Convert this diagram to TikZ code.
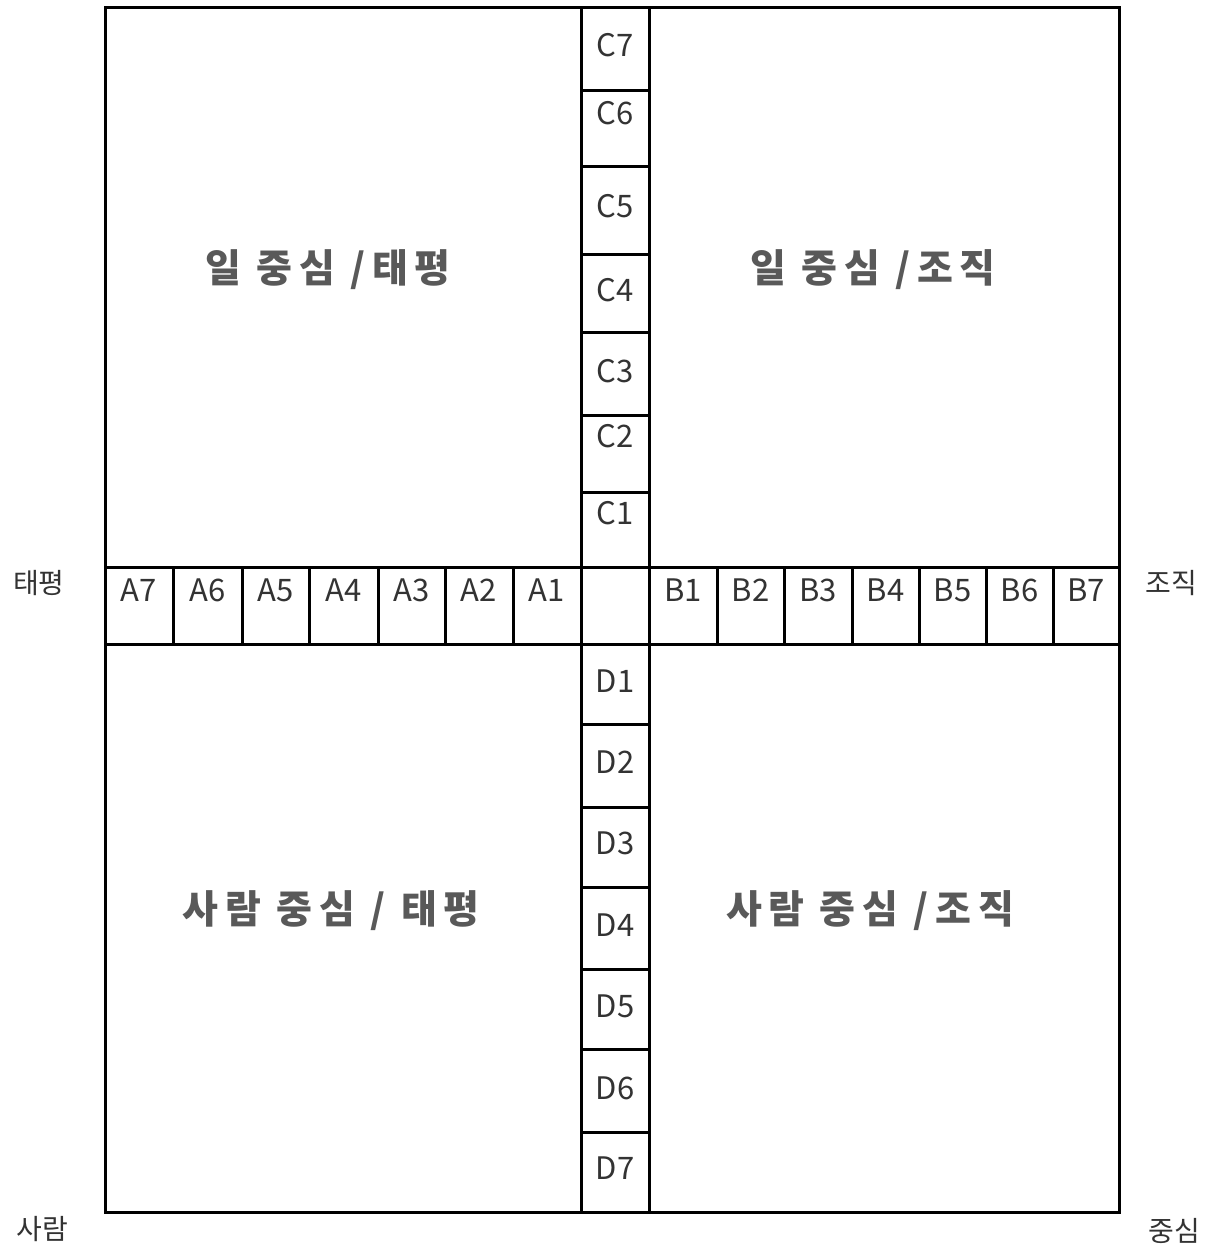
\documentclass[tikz,border=0pt]{standalone}
\usepackage{fontspec}
\setmainfont{Noto Sans CJK KR}
\newfontfamily\quadfont[LetterSpace=17]{Noto Sans CJK KR}
\usetikzlibrary{positioning, calc}

\tikzset{
    grid/.style={line width=1.5pt, black},
    cell/.style={font=\fontsize{15.5}{18}\selectfont, text=black!80, inner sep=0pt},
    side/.style={font=\fontsize{14}{16}\selectfont, text=black!80, inner sep=0pt},
    quad/.style={font=\quadfont\bfseries\fontsize{19.5}{23}\selectfont, text=black!65, inner sep=0pt}
}

\begin{document}
\begin{tikzpicture}[x=0.5pt, y=-0.5pt]
\useasboundingbox (0,0) rectangle (1214,1247);

% Outer frame and central cross
\draw[grid] (105,8) rectangle (1119,1212);
\draw[grid] (581,8) -- (581,1212) (649,8) -- (649,1212);
\draw[grid] (105,567) -- (1119,567) (105,644) -- (1119,644);

% Left row (A7 ... A1)
\foreach \x in {173,242,309,378,445,513}
    \draw[grid] (\x,567) -- (\x,644);
\foreach \i/\x in {7/139, 6/207.5, 5/275.5, 4/343.5, 3/411.5, 2/479, 1/547}
    \node[cell] (a\i) at (\x,590) {A\i};

% Right row (B1 ... B7)
\foreach \x in {717,784,852,919,986,1053}
    \draw[grid] (\x,567) -- (\x,644);
\foreach \i/\x in {1/683, 2/750.5, 3/818, 4/885.5, 5/952.5, 6/1019.5, 7/1086}
    \node[cell] (b\i) at (\x,590) {B\i};

% Upper column (C7 ... C1)
\foreach \y in {91,166,254,332,415,492}
    \draw[grid] (581,\y) -- (649,\y);
\foreach \i/\y in {7/45, 6/113, 5/206, 4/290, 3/371, 2/436, 1/513}
    \node[cell] (c\i) at (615,\y) {C\i};

% Lower column (D1 ... D7)
\foreach \y in {724,807,887,969,1049,1132}
    \draw[grid] (581,\y) -- (649,\y);
\foreach \i/\y in {1/681, 2/762, 3/843, 4/925, 5/1006, 6/1088, 7/1168}
    \node[cell] (d\i) at (615,\y) {D\i};

% Quadrant titles
\node[quad] (worktp) at (328,270) {일 중심 /태평};
\node[quad] (workorg) at (873,270) {일 중심 /조직};
\node[quad] (peopletp) at (331,911) {사람 중심 / 태평};
\node[quad] (peopleorg) at (870,911) {사람 중심 /조직};

% Axis ends
\node[side] (taepyeong) at (39,583) {태평};
\node[side] (jojik) at (1171,583) {조직};
\node[side] (saram) at (42,1229) {사람};
\node[side] (jungsim) at (1174,1231) {중심};
\end{tikzpicture}
\end{document}
